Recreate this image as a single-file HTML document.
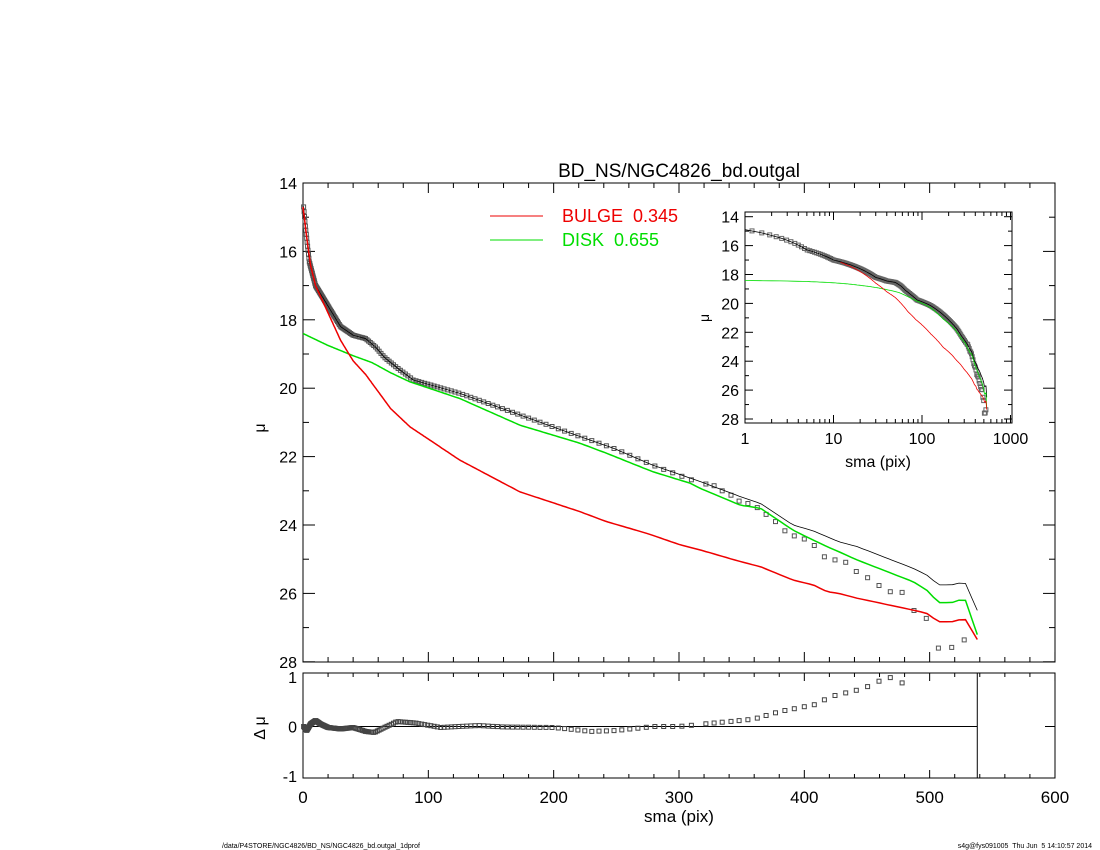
<!DOCTYPE html>
<html><head><meta charset="utf-8"><style>
html,body{margin:0;padding:0;background:#fff;}
svg{display:block;font-family:"Liberation Sans",sans-serif;}
</style></head><body>
<svg id="s" width="1100" height="850" xmlns="http://www.w3.org/2000/svg">
<text x="679" y="177" font-size="19" text-anchor="middle">BD_NS/NGC4826_bd.outgal</text>
<g id="g"></g>
<line x1="490" y1="216" x2="543" y2="216" stroke="#e00" stroke-width="1"/>
<text x="562" y="222" font-size="18" fill="#e00" xml:space="preserve">BULGE  0.345</text>
<line x1="490" y1="240" x2="543" y2="240" stroke="#0d0" stroke-width="1"/>
<text x="562" y="246" font-size="18" fill="#0d0" xml:space="preserve">DISK  0.655</text>
<text x="679" y="822" font-size="17" text-anchor="middle">sma (pix)</text>
<text x="265" y="428" font-size="16" text-anchor="middle" transform="rotate(-90 265 428)">μ</text>
<text x="265" y="728" font-size="16" text-anchor="middle" transform="rotate(-90 265 728)" xml:space="preserve">Δ μ</text>
<text x="878" y="467" font-size="16" text-anchor="middle">sma (pix)</text>
<text x="709" y="318" font-size="14" text-anchor="middle" transform="rotate(-90 709 318)">μ</text>
<text x="222" y="848" font-size="7">/data/P4STORE/NGC4826/BD_NS/NGC4826_bd.outgal_1dprof</text>
<text x="1092" y="848" font-size="7" text-anchor="end" xml:space="preserve">s4g@fys091005  Thu Jun  5 14:10:57 2014</text>
</svg>
<script>
var g=document.getElementById('g'),h='';
function L(x1,y1,x2,y2,c,w){h+='<line x1="'+x1+'" y1="'+y1+'" x2="'+x2+'" y2="'+y2+'" stroke="'+(c||'#000')+'" stroke-width="'+(w||1)+'"/>';}
function T(x,y,t,s,a){h+='<text x="'+x+'" y="'+y+'" font-size="'+s+'" text-anchor="'+(a||'middle')+'">'+t+'</text>';}
function interp(p,x){if(x<=p[0][0])return p[0][1];for(var i=1;i<p.length;i++)if(x<=p[i][0]){var a=p[i-1],b=p[i];return a[1]+(b[1]-a[1])*(x-a[0])/(b[0]-a[0]);}return p[p.length-1][1];}
var X=s=>303+1.2533*s, Y=m=>183+34.2*(m-14), R=d=>726.5-49.5*d;
var IX=s=>745+88.5*Math.log10(s), IY=m=>216.7+14.45*(m-14);
var early=[[0.5,14.7],[2,15.3],[5,16.3],[10,17.0],[20,17.6],[30,18.2],[40,18.45],[50,18.55],[58,18.8],[65,19.1],[75,19.4]];
var sqLate=[[321.5,22.8],[328,22.85],[334.5,23.0],[341.5,23.13],[348,23.3],[355,23.37],[362.5,23.49],[369.5,23.69],[377,23.9],[384.5,24.17],[392,24.32],[400,24.41],[408,24.6],[416,24.93],[424.5,25.02],[433,25.09],[441.5,25.36],[450.5,25.54],[459.6,25.77],[468.6,25.95],[478,25.97],[487.5,26.5],[497.3,26.73],[507,27.6],[517.6,27.58],[527.6,27.36]];
var obs=early.concat([[88,19.76],[125,20.15],[173,20.78],[210,21.27],[248,21.76],[279,22.25],[309,22.67]]).concat(sqLate);
var mod=early.concat([[88,19.76],[125,20.15],[173,20.78],[210,21.27],[248,21.76],[279,22.25],[317,22.73],[349,23.17],[365,23.37],[391,24.0],[407,24.17],[427.5,24.49],[442,24.63],[487,25.27],[497.6,25.46],[507,25.75],[517.6,25.75],[528,25.66],[539,26.58]]);
var grn=[[0,18.4],[20,18.75],[40,19.05],[55,19.25],[70,19.55],[85,19.81],[125,20.3],[173,21.08],[221,21.61],[242,21.9],[279,22.44],[309,22.78],[317,22.93],[349,23.42],[365,23.51],[391,24.15],[407,24.44],[418,24.63],[427.5,24.78],[442,25.02],[487,25.66],[497.6,25.9],[507,26.27],[517.6,26.27],[528,26.14],[539,27.31]];
var red=[[0,14.7],[3,15.6],[6,16.4],[10,17.0],[20,17.8],[30,18.6],[40,19.2],[50,19.6],[61,20.15],[70,20.6],[85.4,21.13],[125,22.1],[173,23.03],[221,23.61],[242,23.9],[274,24.24],[301,24.58],[317,24.73],[349,25.07],[365,25.22],[391,25.61],[407,25.75],[418,25.95],[427.5,26.0],[442,26.14],[487,26.49],[497.6,26.58],[507,26.83],[517.6,26.83],[528,26.73],[539,27.41]];
var res=[[0.5,0],[3,-0.08],[6,0.05],[10,0.12],[14,0.05],[20,-0.02],[30,-0.05],[40,-0.02],[50,-0.1],[57,-0.12],[65,-0.02],[75,0.1],[90,0.07],[110,-0.02],[140,0.02],[160,-0.01],[200,-0.02],[230,-0.1],[250,-0.08],[280,0],[300,0],[320,0.05],[340,0.1],[360,0.15],[380,0.3],[400,0.4],[410,0.45],[420,0.6],[440,0.72],[450,0.8],[460,0.92],[470,1.0],[478,0.88]];
var S=[];for(var s=0.5;s<=316;s=Math.max(s+0.35,s*1.025))S.push(s);
var SS=S.concat(sqLate.map(p=>p[0]));
function path(p,fx,fy,c,w,lo){var d='';var xs=[];for(var s=Math.max(lo||0,0.5);s<538;s=Math.max(s+0.5,s*1.01))xs.push(s);xs.push(538);if(!lo)xs.unshift(0.01);xs.forEach((s,i)=>{d+=(i?'L':'M')+fx(s).toFixed(1)+' '+fy(interp(p,s)).toFixed(1);});h+='<path d="'+d+'" fill="none" stroke="'+c+'" stroke-width="'+w+'"/>';}
function sqr(x,y,c){h+='<rect x="'+(x-2).toFixed(1)+'" y="'+(y-2).toFixed(1)+'" width="4" height="4" fill="none" stroke="'+c+'" stroke-width="1"/>';}
h+='<rect x="303" y="183" width="752" height="479" fill="none" stroke="#000"/>';
for(var v=0;v<=600;v+=20){var big=v%100==0;L(X(v),662,X(v),662-(big?10:5));L(X(v),183,X(v),183+(big?10:5));}
for(var m=14;m<=28;m+=1){var big=m%2==0;L(303,Y(m),303+(big?12:6),Y(m));L(1055,Y(m),1055-(big?12:6),Y(m));if(big)T(297,Y(m)+6,m,16,'end');}
h+='<rect x="303" y="673" width="752" height="105" fill="none" stroke="#000"/>';
for(var v=0;v<=600;v+=20){var big=v%100==0;L(X(v),778,X(v),778-(big?8:4));L(X(v),673,X(v),673+(big?8:4));if(big)T(X(v),803,v,17);}
[1,0,-1].forEach(d=>T(297,R(d)+6,d,16,'end'));
L(303,R(0),X(538),R(0),'#000',1);L(1045,R(0),1055,R(0),'#000',1);L(X(538),673,X(538),778,'#000',1);
SS.forEach(s=>{if(s>538)return;sqr(X(s),Y(interp(obs,s)),'#555');});
path(mod,X,Y,'#000',0.8);path(grn,X,Y,'#0d0',1.5);path(red,X,Y,'#e00',1.5);
SS.forEach(s=>{if(s>478)return;sqr(X(s),R(interp(res,s)),'#444');});
h+='<rect x="745" y="212" width="267" height="211" fill="#fff" stroke="#000"/>';
[[1,'1'],[10,'10'],[100,'100'],[1000,'1000']].forEach(a=>{L(IX(a[0]),423,IX(a[0]),415);L(IX(a[0]),212,IX(a[0]),220);T(IX(a[0]),444,a[1],16);});
for(var d=1;d<1000;d*=10)for(var k=2;k<10;k++){L(IX(d*k),423,IX(d*k),419);L(IX(d*k),212,IX(d*k),216);}
for(var m=14;m<=28;m+=1){var big=m%2==0;L(745,IY(m),745+(big?8:4),IY(m));L(1012,IY(m),1012-(big?8:4),IY(m));if(big)T(739,IY(m)+6,m,16,'end');}
SS.forEach(s=>{if(s<1||s>538)return;sqr(IX(s),IY(interp(obs,s)),'#666');});
path(mod,IX,IY,'#000',0.8,1);path(grn,IX,IY,'#0d0',0.8,1);path(red,IX,IY,'#e00',0.8,12);
g.innerHTML=h;
</script>
</body></html>
